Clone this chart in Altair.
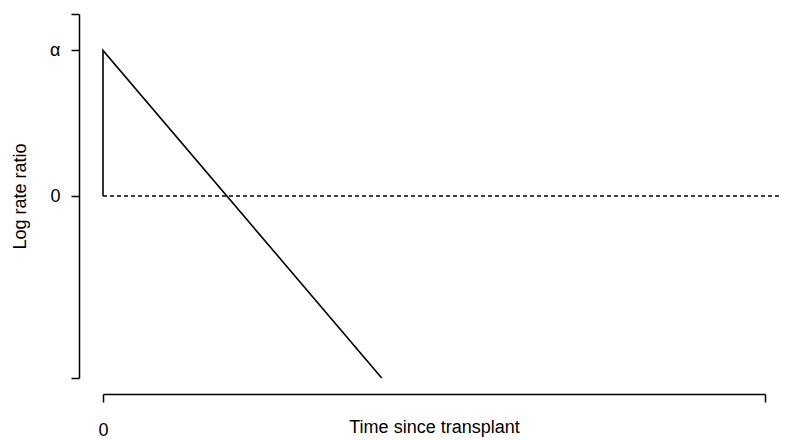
import altair as alt
import pandas as pd

# data: piecewise linear log rate ratio vs time since transplant
times = [0.0, 0.0, 4.21]
values = [0.0, 1.0, -1.25]
y_ticks = [-1.25, 0.0, 1.0, 1.25]
y_labels = ["", "0", "α", ""]
x_ticks = [0, 10]
x_labels = ["0", ""]
ref_x = [0.0, 10.4]
ref_y = [0.0, 0.0]

line_df = pd.DataFrame({"t": times, "v": values, "o": list(range(len(times)))})
ref_df = pd.DataFrame({"t": [ref_x[0]], "t2": [ref_x[1]], "v": [ref_y[0]]})


def label_expr(ticks, labels):
    expr = "''"
    for v, l in reversed(list(zip(ticks, labels))):
        expr = f"(abs(datum.value - ({v})) < 1e-6 ? '{l}' : {expr})"
    return expr


FONT = "Liberation Sans"

xscale = alt.Scale(domain=[0, 10], nice=False, zero=False)
yscale = alt.Scale(domain=[-1.25, 1.25], nice=False, zero=False)

xaxis = alt.Axis(
    title="Time since transplant", values=x_ticks, grid=False,
    labelExpr=label_expr(x_ticks, x_labels), labelFlush=False,
    offset=16, tickSize=8, labelPadding=19, domainWidth=1.5, tickWidth=1.5,
    domainColor="black", tickColor="black", labelColor="black",
    labelFont=FONT, labelFontSize=18, titleFont=FONT, titleFontSize=18,
    titleFontWeight="normal", titleColor="black", titleY=38, titleBaseline="alphabetic",
)
yaxis = alt.Axis(
    title="Log rate ratio", values=y_ticks, grid=False,
    labelExpr=label_expr(y_ticks, y_labels), labelFlush=False,
    offset=24, tickSize=8, labelPadding=11, domainWidth=1.5, tickWidth=1.5,
    domainColor="black", tickColor="black", labelColor="black",
    labelFont=FONT, labelFontSize=18, titleFont=FONT, titleFontSize=18,
    titleFontWeight="normal", titleColor="black", titleX=-59, titleBaseline="middle",
)

line = alt.Chart(line_df).mark_line(color="black", strokeWidth=1.6, clip=False).encode(
    x=alt.X("t:Q", scale=xscale, axis=xaxis),
    y=alt.Y("v:Q", scale=yscale, axis=yaxis),
    order="o:Q",
)

ref = alt.Chart(ref_df).mark_rule(color="black", strokeWidth=1.3, strokeDash=[4, 3], clip=False).encode(
    x=alt.X("t:Q", scale=xscale),
    x2="t2:Q",
    y=alt.Y("v:Q", scale=yscale),
)

chart = alt.layer(ref, line).properties(
    width=662, height=364,
    background="white",
    autosize=alt.AutoSizeParams(type="none"),
    padding={"left": 95, "top": 6, "right": 16, "bottom": 62},
).configure_view(strokeWidth=0, stroke="transparent")

chart.save("out.html", embed_options={"renderer": "svg", "actions": False})
